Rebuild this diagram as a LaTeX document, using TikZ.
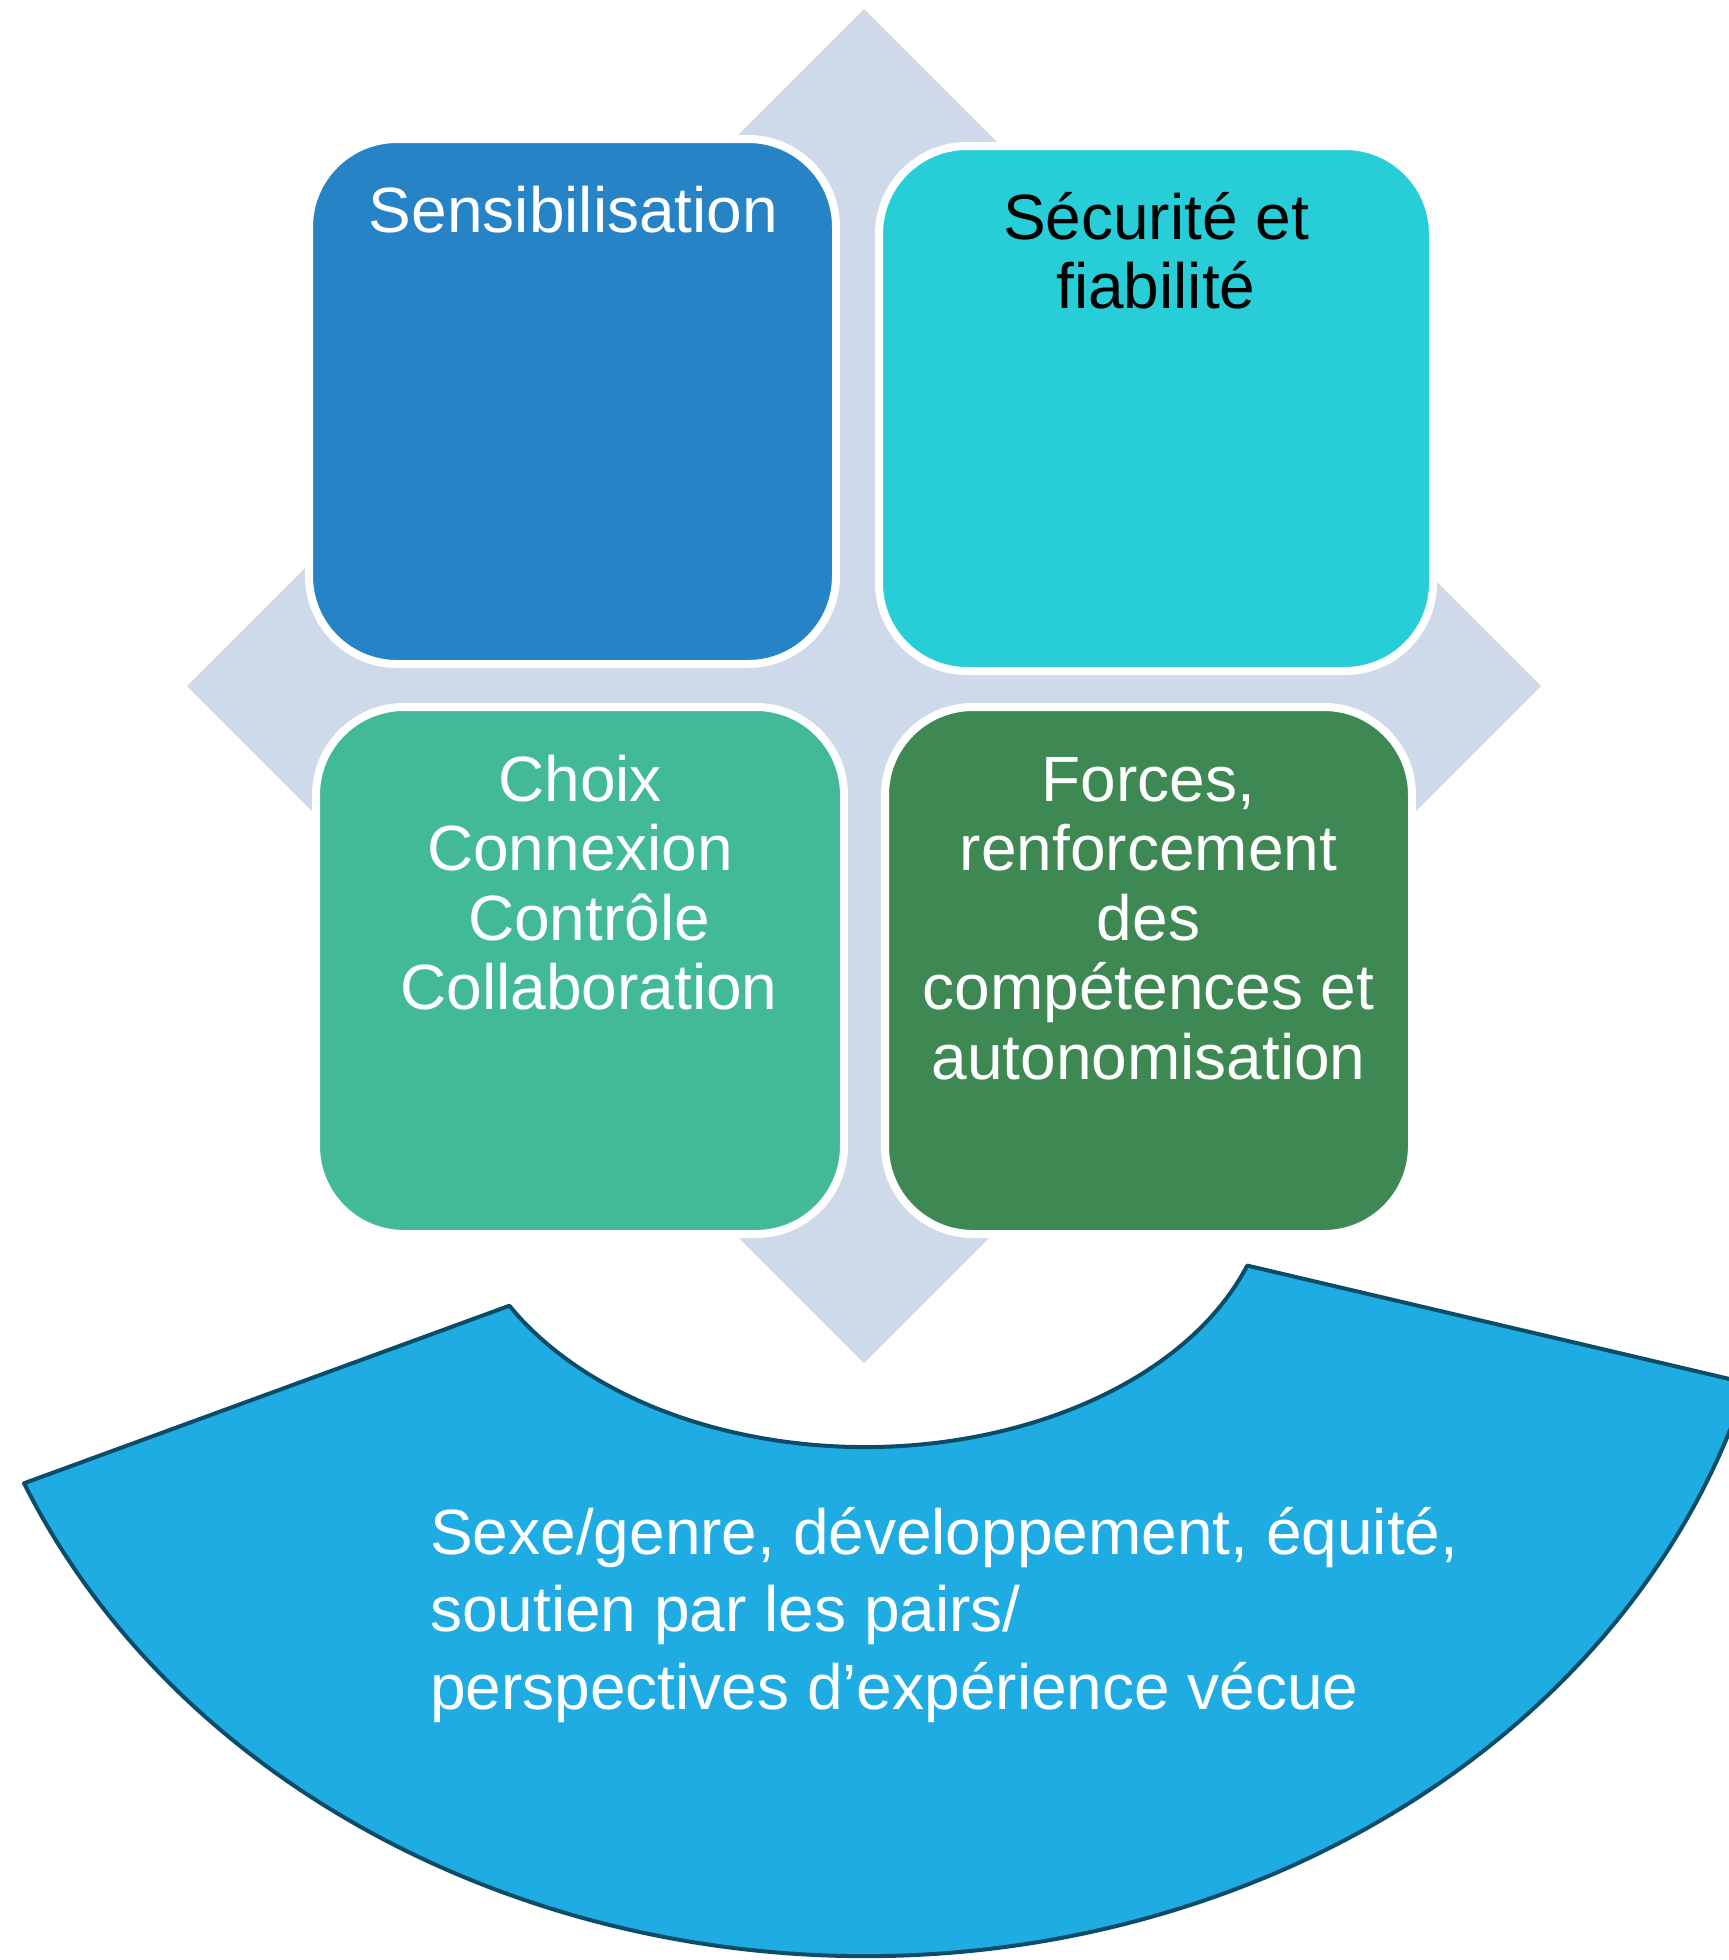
\documentclass[tikz,border=0pt]{standalone}
\usepackage{fontspec}
\setmainfont{Liberation Sans}
\usetikzlibrary{calc}
\definecolor{diamondgray}{HTML}{CED9EA}
\definecolor{sensblue}{HTML}{2683C6}
\definecolor{secucyan}{HTML}{27CED7}
\definecolor{choixgreen}{HTML}{42BA97}
\definecolor{forcegreen}{HTML}{3E8853}
\definecolor{bandblue}{HTML}{1FACE3}
\definecolor{bandline}{HTML}{0B4C68}
\begin{document}
\begin{tikzpicture}[x=1pt,y=-1pt,
  box/.style={draw=white, line width=8pt, rounded corners=88pt, inner sep=0pt},
  lbl/.style={font=\fontsize{64}{69.5}\selectfont, align=center, anchor=base, inner sep=0pt}]
\useasboundingbox (0,0) rectangle (1729,1960);
\clip (0,0) rectangle (1729,1960);

% diamond behind the four boxes
\coordinate (top) at (864,9);
\coordinate (right) at (1541,686);
\coordinate (bottom) at (864,1363);
\coordinate (left) at (187,686);
\fill[diamondgray] (top) -- (right) -- (bottom) -- (left) -- cycle;

\node[box, fill=sensblue, minimum width=527pt, minimum height=525pt] (sens) at (572.5,401.5) {};
\node[box, fill=secucyan, minimum width=554pt, minimum height=525pt] (secu) at (1156,408.5) {};
\node[box, fill=choixgreen, minimum width=528pt, minimum height=527pt] (choix) at (580,970.5) {};
\node[box, fill=forcegreen, minimum width=527pt, minimum height=527pt] (forces) at (1148.5,970.5) {};

% labels sit on the baseline of their last line
\node[lbl, text=white] (senstxt) at (573.5,232) {Sensibilisation};
\node[lbl, text=black] (secutxt) at (1156,308.5) {Sécurité et\\fiabilité};
\node[lbl, text=white] (choixtxt) at (589,1009.5) {Choix\kern17.8pt\\Connexion\kern17.8pt\\Contrôle\\Collaboration};
\node[lbl, text=white] (forcestxt) at (1148.5,1079) {Forces,\\renforcement\\des\\compétences et\\autonomisation};

% block arc at the bottom
\coordinate (ctr) at (865,1176);
\draw[bandline, fill=bandblue, line width=4pt, line join=round]
  ($(ctr)+(156.8:915 and 780)$) arc[start angle=156.8, end angle=15.4, x radius=915, y radius=780]
  -- ($(ctr)+(19.3:405 and 271)$) arc[start angle=19.3, end angle=151.4, x radius=405, y radius=271]
  -- cycle;
\node[font=\fontsize{64}{77.5}\selectfont, align=left, anchor=base west, inner sep=0pt, text=white] (bandtxt) at (430,1709)
  {Sexe/genre, développement, équité,\\soutien par les pairs/\\perspectives d’expérience vécue};
\end{tikzpicture}
\end{document}
